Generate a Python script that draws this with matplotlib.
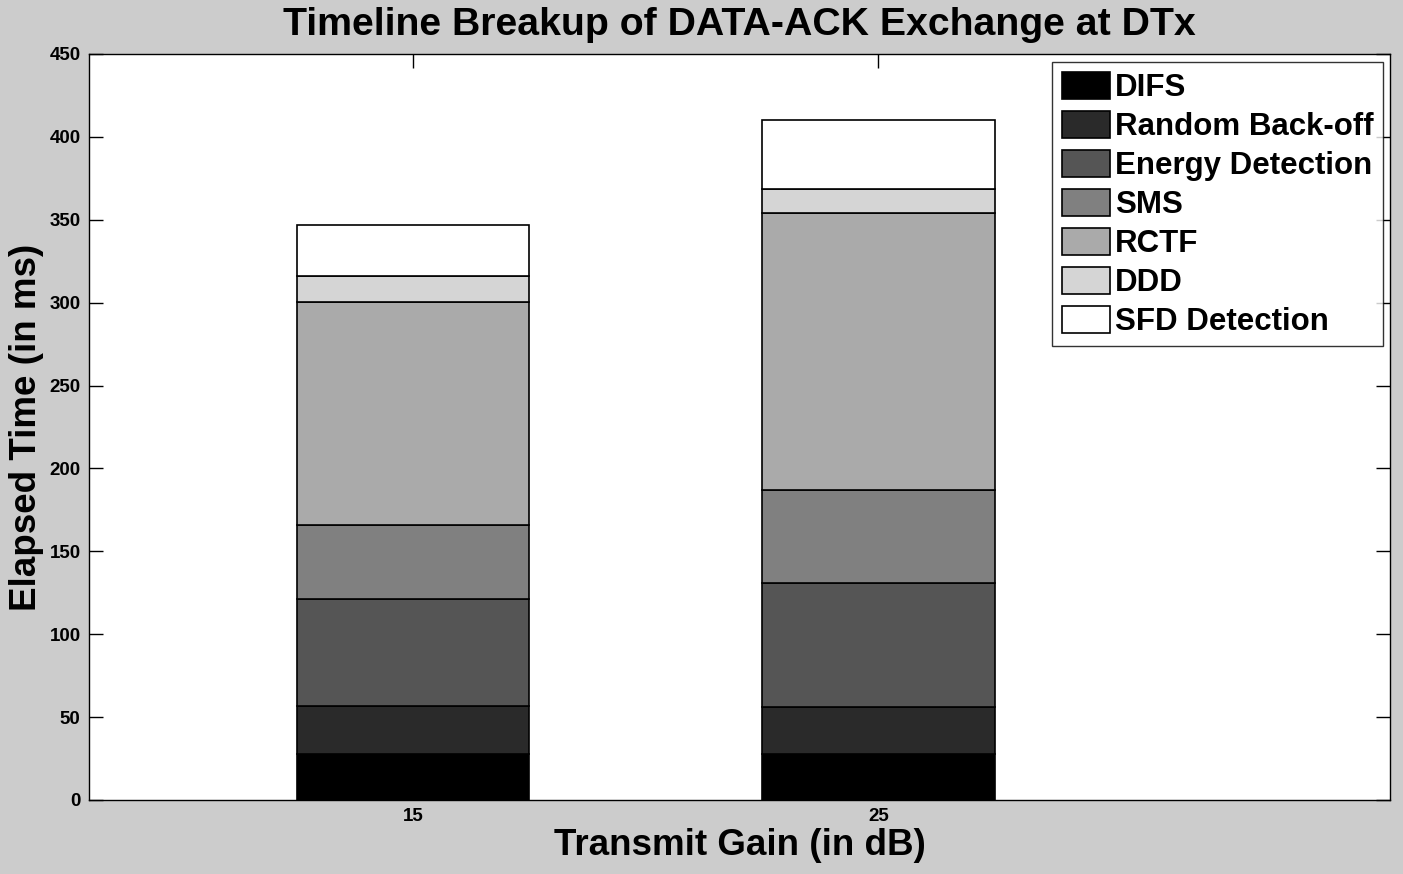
import matplotlib.pyplot as plt
import numpy as np

plt.rcParams['font.family'] = ['Liberation Sans', 'DejaVu Sans']
plt.rcParams['font.weight'] = 'bold'

gains = ['15', '25']
components = ['DIFS', 'Random Back-off', 'Energy Detection', 'SMS', 'RCTF', 'DDD', 'SFD Detection']
difs = [27.7, 27.7]
random_backoff = [28.8, 28.2]
energy_detection = [64.6, 74.8]
sms = [44.6, 56.1]
rctf = [134.5, 167.1]
ddd = [15.7, 14.5]
sfd_detection = [30.8, 41.6]
colors = ['#000000', '#2a2a2a', '#555555', '#808080', '#aaaaaa', '#d5d5d5', '#ffffff']

series = [difs, random_backoff, energy_detection, sms, rctf, ddd, sfd_detection]

fig = plt.figure(figsize=(14.03, 8.74), dpi=100, facecolor='#cccccc')
ax = fig.add_axes([89 / 1403, 1 - 800 / 874, 1301 / 1403, 746 / 874])
x = np.arange(1, len(gains) + 1)
bottom = np.zeros(len(gains))
for name, vals, c in zip(components, series, colors):
    ax.bar(x, vals, 0.5, bottom=bottom, color=c, edgecolor='black', linewidth=1.2, label=name)
    bottom += np.array(vals)

ax.set_xlim(0.303, 3.1)
ax.set_ylim(0, 450)
ax.set_yticks(np.arange(0, 451, 50))
ax.set_xticks(x)
ax.set_xticklabels(gains)
ax.tick_params(direction='in', top=True, right=True, length=10, width=1, labelsize=13.5, pad=6)
for lab in ax.get_xticklabels() + ax.get_yticklabels():
    lab.set_fontweight('bold')
for s in ax.spines.values():
    s.set_linewidth(1)

ax.set_title('Timeline Breakup of DATA-ACK Exchange at DTx', fontsize=28.3, fontweight='bold', pad=14)
ax.set_xlabel('Transmit Gain (in dB)', fontsize=26.5, fontweight='bold', labelpad=2)
ax.set_ylabel('Elapsed Time (in ms)', fontsize=26.5, fontweight='bold', labelpad=4)

leg = ax.legend(loc='upper right', bbox_to_anchor=(0.9945, 0.989), fontsize=22.5, frameon=True, fancybox=False,
                edgecolor='black', handlelength=1.55, handleheight=0.95, handletextpad=0.15,
                labelspacing=0.25, borderpad=0.3, borderaxespad=0)
leg.get_frame().set_linewidth(1)
for t in leg.get_texts():
    t.set_fontweight('bold')

fig.savefig('out.png', dpi=100, facecolor=fig.get_facecolor())
